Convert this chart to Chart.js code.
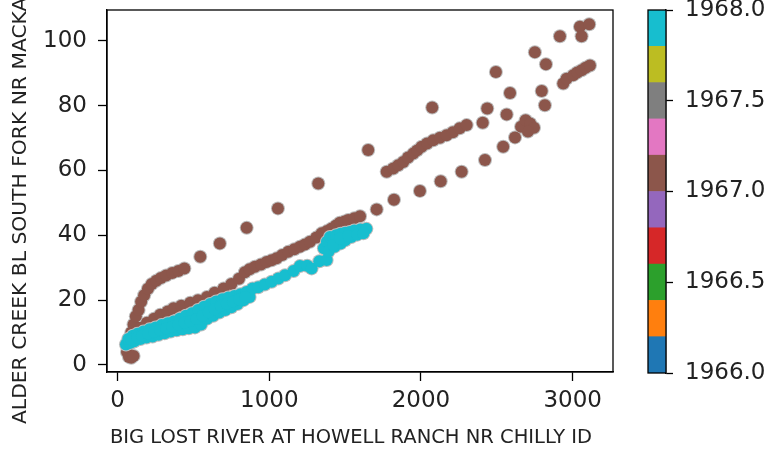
<!DOCTYPE html>
<html>
<head>
<meta charset="utf-8">
<script src="https://cdn.jsdelivr.net/npm/chart.js@4/dist/chart.umd.min.js"></script>
<style>
  html, body { margin: 0; padding: 0; background: #fff; }
  #wrap { position: relative; width: 780px; height: 450px; overflow: hidden; background: #fff; }
  #main { position: absolute; left: 0; top: 0; }
  #cbar { position: absolute; left: 600px; top: 0; }
</style>
</head>
<body>
<div id="wrap">
  <canvas id="main" width="780" height="450"></canvas>
  <canvas id="cbar" width="180" height="450"></canvas>
</div>
<script>
// Daily discharge pairs: Big Lost River (x) vs Alder Creek (y), coloured by year.
const xLabel = 'BIG LOST RIVER AT HOWELL RANCH NR CHILLY ID';
const yLabel = 'ALDER CREEK BL SOUTH FORK NR MACKAY';

const xTicks = [0, 1000, 2000, 3000];
const yTicks = [0, 20, 40, 60, 80, 100];

// Colour bar: years 1966-1968 split into ten tab10 bands
const cbarTicks = [1966.0, 1966.5, 1967.0, 1967.5, 1968.0];
const cbarBounds = [1966.0, 1966.2, 1966.4, 1966.6, 1966.8, 1967.0, 1967.2, 1967.4, 1967.6, 1967.8, 1968.0];
const tab10 = ['#1f77b4', '#ff7f0e', '#2ca02c', '#d62728', '#9467bd',
               '#8c564b', '#e377c2', '#7f7f7f', '#bcbd22', '#17becf'];

const years = [1967, 1968];

// 1967 flows
const flow1967X = [
  62, 75, 90, 105,
  70, 78, 90, 105, 120, 138, 155, 175, 200, 225, 255, 285, 320, 360, 400, 440,
  545, 674, 851, 1057, 1323, 1652, 2074, 2494, 2751, 2824, 2916, 3048, 3059, 3109,
  95, 120, 150, 193, 240, 281, 330, 369, 420, 479, 530, 589, 640, 699, 750, 800,
  839, 870, 905, 945, 982, 1015, 1048, 1085, 1125, 1165, 1202, 1235, 1268, 1310, 1345, 1380, 1411, 1440, 1465, 1495, 1520, 1560, 1598,
  1708, 1822, 1993, 2130, 2268, 2422, 2542, 2620, 2660, 2690, 2720, 2745, 2705,
  2796, 2817, 2938, 2960, 3004, 3030, 3059, 3085, 3114,
  1774, 1817, 1850, 1883, 1915, 1949, 1975, 2004, 2040, 2081, 2125, 2169, 2210, 2255, 2301,
  2407, 2437, 2565, 2587
];
const flow1967Y = [
  4.0, 2.5, 2.2, 2.8,
  6.5, 8.0, 10.0, 12.5, 15.0, 17.0, 19.5, 21.5, 23.5, 25.0, 26.0, 26.8, 27.6, 28.4, 29.0, 29.8,
  33.4, 37.5, 42.3, 48.3, 56.0, 66.3, 79.4, 90.4, 96.5, 92.8, 101.4, 104.3, 101.4, 105.1,
  7.0, 9.5, 11.5, 13.0, 14.3, 15.5, 16.5, 17.5, 18.3, 19.2, 20.0, 21.0, 22.3, 23.6, 25.0, 26.6,
  28.6, 29.5, 30.3, 31.0, 31.8, 32.3, 32.9, 33.9, 34.9, 35.7, 36.5, 37.2, 38.0, 39.3, 40.6, 41.3, 42.1, 43.0, 43.9, 44.3, 44.7, 45.3, 45.9,
  48.0, 51.0, 53.7, 56.7, 59.6, 63.2, 67.3, 70.2, 73.5, 75.5, 74.5, 73.2, 72.0,
  84.5, 80.1, 86.8, 88.3, 89.4, 90.2, 90.9, 91.7, 92.4,
  59.6, 60.6, 61.6, 62.6, 64.0, 65.2, 66.2, 67.3, 68.3, 69.3, 70.1, 70.9, 71.8, 73.0, 74.0,
  74.7, 79.1, 77.3, 83.9
];

// 1968 flows
const flow1968X = [
  55, 80, 110, 150, 190, 230, 270, 310, 350, 390, 430, 470, 510, 550, 590, 630, 670, 710, 750, 790, 830, 870,
  70, 100, 130, 170, 210, 250, 290, 330, 370, 410, 450, 490, 530, 570, 610, 650, 690, 730, 770, 810, 850, 890,
  90, 130, 160, 200, 240, 280, 320, 360, 400, 440, 480, 520, 560, 600, 640, 680, 720, 760, 800, 840,
  927, 970, 1015, 1060, 1104, 1160, 1202, 1250, 1279, 1330, 1378,
  1360, 1380, 1400, 1420, 1440, 1470, 1500, 1530, 1560, 1600, 1640,
  1390, 1430, 1470, 1500, 1540, 1420, 1466, 1520, 1580, 1620
];
const flow1968Y = [
  6.3, 6.8, 7.3, 8.0, 8.5, 8.8, 9.3, 9.8, 10.3, 10.7, 11.0, 11.3, 11.6, 12.5, 14.3, 15.2, 16.2, 17.0, 17.8, 18.8, 20.0, 21.0,
  8.0, 9.0, 9.6, 10.3, 11.0, 11.6, 12.3, 12.9, 13.4, 14.3, 15.2, 16.0, 17.0, 18.0, 18.8, 19.6, 20.3, 20.8, 21.3, 21.8, 22.5, 23.6,
  7.8, 8.5, 9.0, 9.6, 10.2, 10.8, 11.3, 11.8, 12.4, 13.0, 13.6, 14.2, 15.2, 16.3, 17.2, 18.3, 18.9, 19.5, 20.2, 21.0,
  24.0, 24.8, 25.7, 26.7, 27.7, 29.0, 30.5, 30.6, 29.8, 32.0, 32.4,
  36.0, 38.0, 39.5, 38.5, 40.0, 40.5, 40.8, 41.0, 41.5, 41.8, 42.0,
  35.0, 36.5, 37.5, 38.5, 39.5, 37.0, 39.0, 39.8, 40.2, 40.6
];

const toPoints = (xs, ys) => xs.map((x, i) => ({ x: x, y: ys[i] }));

// year -> colour band of the colour bar
function yearColor(year) {
  for (let i = 0; i < tab10.length; i++) {
    if (year >= cbarBounds[i] && year < cbarBounds[i + 1]) return tab10[i];
  }
  return tab10[tab10.length - 1];
}

const FONT = '"DejaVu Sans", sans-serif';
const TEXT = '#222';
const HALO = '#bdbdbd';

// each year: a thin grey halo layer under the filled markers
function yearLayers(year, xs, ys, depth) {
  const pts = toPoints(xs, ys);
  return [
    { label: year + ' edge', data: pts, backgroundColor: HALO, borderWidth: 0, pointRadius: 7, order: depth + 1 },
    { label: String(year), data: pts, backgroundColor: yearColor(year), borderWidth: 0, pointRadius: 6, order: depth }
  ];
}

// black box around the plotting area
const frame = {
  id: 'frame',
  afterDatasetsDraw(chart) {
    const { ctx, chartArea: a } = chart;
    ctx.save();
    ctx.strokeStyle = '#000';
    ctx.lineWidth = 1.3;
    ctx.strokeRect(a.left, a.top, a.right - a.left, a.bottom - a.top);
    ctx.restore();
  }
};

// axis titles
const axisTitles = {
  id: 'axisTitles',
  afterDraw(chart) {
    const ctx = chart.ctx;
    ctx.save();
    ctx.fillStyle = TEXT;
    ctx.textBaseline = 'alphabetic';
    ctx.font = '19.5px ' + FONT;
    ctx.textAlign = 'center';
    ctx.fillText(xLabel, 351, 442.5);
    ctx.font = '20.3px ' + FONT;
    ctx.translate(25.5, 424);
    ctx.rotate(-Math.PI / 2);
    ctx.textAlign = 'left';
    ctx.fillText(yLabel, 0, 0);
    ctx.restore();
  }
};

const tickFont = { family: FONT, size: 23 };

function fixedWidth(w) {
  return s => { s.width = w; s.paddingTop = 0; s.paddingBottom = 0; };
}

new Chart(document.getElementById('main'), {
  type: 'scatter',
  data: {
    datasets: [
      ...yearLayers(years[0], flow1967X, flow1967Y, 3),
      ...yearLayers(years[1], flow1968X, flow1968Y, 1)
    ]
  },
  options: {
    animation: false,
    responsive: false,
    devicePixelRatio: 1,
    events: [],
    layout: { padding: { left: 0, top: 10, right: 167, bottom: 0 } },
    plugins: { legend: { display: false }, tooltip: { enabled: false } },
    scales: {
      x: {
        type: 'linear',
        min: -70,
        max: 3266,
        afterBuildTicks(s) { s.ticks = xTicks.map(v => ({ value: v })); },
        afterFit(s) { s.height = 78; s.paddingLeft = 0; s.paddingRight = 0; },
        ticks: { font: tickFont, color: TEXT, padding: 6, maxRotation: 0, autoSkip: false, callback: v => String(v) },
        grid: { drawOnChartArea: false, drawTicks: true, tickLength: 9, color: '#000', tickWidth: 1.3 },
        border: { display: true, color: '#000', width: 1.3 }
      },
      y: {
        type: 'linear',
        min: -2.16,
        max: 109.5,
        afterBuildTicks(s) { s.ticks = yTicks.map(v => ({ value: v })); },
        afterFit: fixedWidth(107),
        ticks: { font: tickFont, color: TEXT, padding: 11, autoSkip: false, callback: v => String(v) },
        grid: { drawOnChartArea: false, drawTicks: true, tickLength: 9, color: '#000', tickWidth: 1.3 },
        border: { display: true, color: '#000', width: 1.3 }
      }
    }
  },
  plugins: [frame, axisTitles]
});

// colour bar drawn as floating bars on a year scale
new Chart(document.getElementById('cbar'), {
  type: 'bar',
  data: {
    labels: [''],
    datasets: tab10.map((c, i) => ({
      data: [[cbarBounds[i], cbarBounds[i + 1]]],
      backgroundColor: c,
      borderWidth: 0,
      barPercentage: 1,
      categoryPercentage: 1,
      grouped: false
    }))
  },
  options: {
    animation: false,
    responsive: false,
    devicePixelRatio: 1,
    events: [],
    layout: { padding: { left: 48, top: 10, right: 0, bottom: 77 } },
    plugins: { legend: { display: false }, tooltip: { enabled: false } },
    scales: {
      x: { display: false },
      y: {
        position: 'right',
        min: cbarBounds[0],
        max: cbarBounds[cbarBounds.length - 1],
        afterBuildTicks(s) { s.ticks = cbarTicks.map(v => ({ value: v })); },
        afterFit: fixedWidth(114),
        ticks: { font: tickFont, color: TEXT, padding: 12, autoSkip: false, callback: v => Number(v).toFixed(1) },
        grid: { drawOnChartArea: false, drawTicks: true, tickLength: 7, color: '#000', tickWidth: 1.3 },
        border: { display: true, color: '#000', width: 1.3 }
      }
    }
  },
  plugins: [frame]
});
</script>
</body>
</html>
